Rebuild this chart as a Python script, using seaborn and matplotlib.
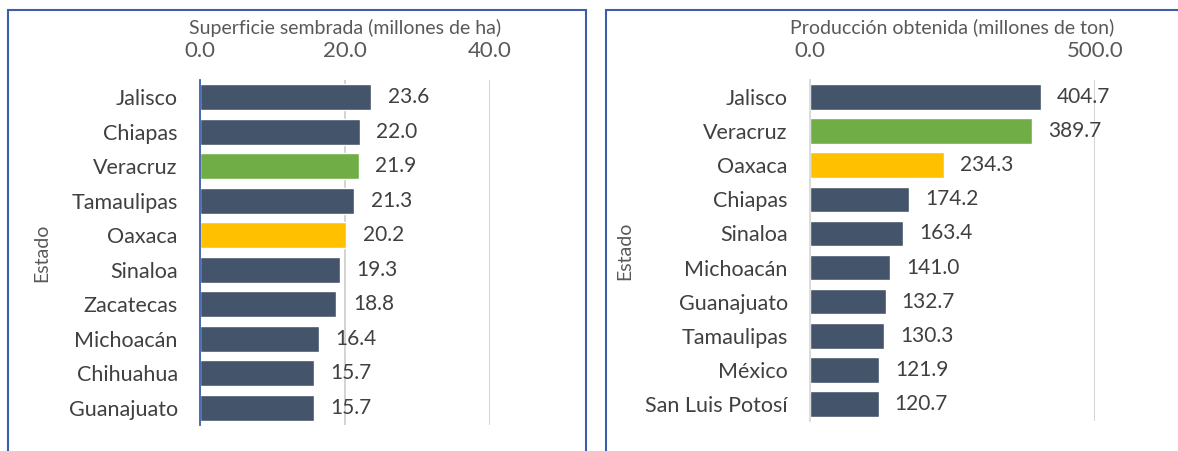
import matplotlib
matplotlib.use("Agg")
import matplotlib.pyplot as plt
import seaborn as sns
import pandas as pd
from matplotlib.patches import Rectangle

# Datos
estados_sup = ["Jalisco", "Chiapas", "Veracruz", "Tamaulipas", "Oaxaca",
               "Sinaloa", "Zacatecas", "Michoacán", "Chihuahua", "Guanajuato"]
superficie = [23.6, 22.0, 21.9, 21.3, 20.2, 19.3, 18.8, 16.4, 15.7, 15.7]

estados_prod = ["Jalisco", "Veracruz", "Oaxaca", "Chiapas", "Sinaloa",
                "Michoacán", "Guanajuato", "Tamaulipas", "México", "San Luis Potosí"]
produccion = [404.7, 389.7, 234.3, 174.2, 163.4, 141.0, 132.7, 130.3, 121.9, 120.7]

BASE = "#44546A"
VERDE = "#70AD47"
AMARILLO = "#FFC000"
GRIS_TXT = "#595959"
MARCO = "#3A5FA8"

def colores(estados):
    pal = {}
    for e in estados:
        if e == "Veracruz":
            pal[e] = VERDE
        elif e == "Oaxaca":
            pal[e] = AMARILLO
        else:
            pal[e] = BASE
    return pal

sns.set_theme(style="white")
plt.rcParams["font.family"] = ["Lato", "DejaVu Sans"]

W, H = 1178, 451
fig = plt.figure(figsize=(W / 100, H / 100), dpi=100)

def px_axes(x0, x1, y0, y1):
    return fig.add_axes([x0 / W, (H - y1) / H, (x1 - x0) / W, (y1 - y0) / H])

# marcos de los paneles
fig.add_artist(Rectangle((8 / W, -0.1), (586 - 8) / W, (H - 10) / H + 0.1,
                         transform=fig.transFigure, fill=False,
                         edgecolor=MARCO, linewidth=1.5))
fig.add_artist(Rectangle((606 / W, -0.1), (1185 - 606) / W, (H - 10) / H + 0.1,
                         transform=fig.transFigure, fill=False,
                         edgecolor=MARCO, linewidth=1.5))

def panel(ax, estados, valores, xmax, ticks, xlabel, spine_color, pad):
    df = pd.DataFrame({"Estado": estados, "valor": valores})
    sns.barplot(data=df, x="valor", y="Estado", hue="Estado",
                palette=colores(estados), orient="h", width=0.75,
                legend=False, saturation=1, ax=ax)
    ax.set_xlim(0, xmax)
    ax.set_ylim(len(estados) - 0.5, -0.5)
    ax.set_xticks(ticks)
    ax.set_xticklabels([f"{t:.1f}" for t in ticks])
    ax.xaxis.tick_top()
    ax.xaxis.set_label_position("top")
    ax.set_xlabel(xlabel, fontsize=14, color=GRIS_TXT, labelpad=5)
    ax.set_ylabel("Estado", fontsize=14, color=GRIS_TXT)
    ax.tick_params(axis="x", colors=GRIS_TXT, labelsize=16, length=0, pad=14)
    ax.tick_params(axis="y", colors="#404040", labelsize=15.5, length=0, pad=16)
    for s in ["top", "right", "bottom"]:
        ax.spines[s].set_visible(False)
    ax.spines["left"].set_color(spine_color)
    ax.spines["left"].set_linewidth(1.3)
    ax.grid(axis="x", color="#D0D0D0", linewidth=1.3)
    ax.set_axisbelow(True)
    for i, v in enumerate(valores):
        ax.text(v + pad, i, f"{v:.1f}", va="center", ha="left",
                fontsize=15, color="#404040")

ax1 = px_axes(200, 490, 80, 425)
panel(ax1, estados_sup, superficie, 40, [0, 20, 40],
      "Superficie sembrada (millones de ha)", MARCO, 2.3)
ax1.yaxis.set_label_coords(-0.515, 0.5)

ax2 = px_axes(810, 1095, 80, 421)
panel(ax2, estados_prod, produccion, 500, [0, 500],
      "Producción obtenida (millones de ton)", "#D9D9D9", 28)
ax2.yaxis.set_label_coords(-0.62, 0.5)

fig.savefig("out.png", dpi=100)
